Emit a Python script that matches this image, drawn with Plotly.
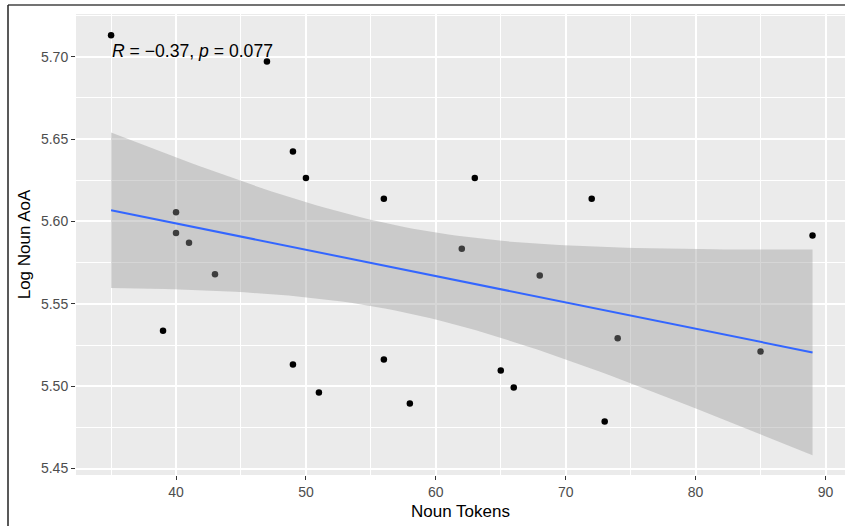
import numpy as np
import plotly.graph_objects as go

# data
noun_tokens = [35, 47, 49, 50, 56, 63, 72, 89, 40, 40, 41, 62,
               43, 68, 39, 74, 85, 56, 49, 65, 66, 51, 58, 73]
log_noun_aoa = [5.713, 5.697, 5.6425, 5.6263, 5.6137, 5.6263, 5.6137, 5.5915,
                5.6055, 5.593, 5.587, 5.5834, 5.568, 5.5672, 5.5336, 5.5291,
                5.521, 5.5162, 5.5132, 5.5095, 5.4992, 5.4962, 5.4895, 5.4786]
x_ticks = [40, 50, 60, 70, 80, 90]
y_ticks = [5.45, 5.50, 5.55, 5.60, 5.65, 5.70]
cor_label = "<i>R</i> = \u22120.37, <i>p</i> = 0.077"

x = np.array(noun_tokens, dtype=float)
y = np.array(log_noun_aoa, dtype=float)
n = len(x)
b1, b0 = np.polyfit(x, y, 1)
xs = np.linspace(x.min(), x.max(), 80)
fit = b0 + b1 * xs
resid = y - (b0 + b1 * x)
s = np.sqrt(np.sum(resid ** 2) / (n - 2))
sxx = np.sum((x - x.mean()) ** 2)
se = s * np.sqrt(1.0 / n + (xs - x.mean()) ** 2 / sxx)
tq = 2.073873  # t(0.975, df=22)
lo = fit - tq * se
hi = fit + tq * se

FONT = "Liberation Sans, Arial, sans-serif"

fig = go.Figure()
fig.add_trace(go.Scatter(x=x, y=y, mode="markers",
                         marker=dict(color="black", size=6.5, line=dict(width=0)),
                         hoverinfo="skip", showlegend=False))
fig.add_trace(go.Scatter(x=np.concatenate([xs, xs[::-1]]),
                         y=np.concatenate([hi, lo[::-1]]),
                         fill="toself", fillcolor="rgba(153,153,153,0.4)",
                         line=dict(width=0), mode="lines",
                         hoverinfo="skip", showlegend=False))
fig.add_trace(go.Scatter(x=xs, y=fit, mode="lines",
                         line=dict(color="#3366FF", width=2),
                         hoverinfo="skip", showlegend=False))

fig.add_annotation(x=35, y=5.7032, text=cor_label, showarrow=False,
                   xanchor="left", yanchor="middle", xshift=-1,
                   font=dict(family=FONT, size=17.6, color="black"))

PW = 845 - 76
PH = 526 - 14 - 51
# outer border lines (left and top)
fig.add_shape(type="line", xref="paper", yref="paper",
              x0=(8 - 76) / PW, x1=1.0, y0=1 + (14 - 5) / PH, y1=1 + (14 - 5) / PH,
              line=dict(color="#444444", width=1.5))
fig.add_shape(type="line", xref="paper", yref="paper",
              x0=(8 - 76) / PW, x1=(8 - 76) / PW, y0=-51 / PH, y1=1 + (14 - 5) / PH,
              line=dict(color="#222222", width=1.5))

fig.update_layout(
    width=845, height=526,
    margin=dict(l=76, r=0, t=14, b=51, autoexpand=False),
    paper_bgcolor="white", plot_bgcolor="#EBEBEB",
    font=dict(family=FONT),
    showlegend=False,
)
fig.update_xaxes(range=[32.3, 91.5], tickvals=x_ticks, ticktext=[str(v) for v in x_ticks],
                 showgrid=True, gridcolor="white", gridwidth=1.6,
                 minor=dict(dtick=5, tick0=0, showgrid=True, gridcolor="white", gridwidth=0.8),
                 zeroline=False, ticks="outside", ticklen=4, tickcolor="#333333", tickwidth=1,
                 tickfont=dict(family=FONT, size=14, color="#4D4D4D"),
                 title=dict(text="Noun Tokens", standoff=6,
                            font=dict(family=FONT, size=17, color="black")),
                 automargin=False, showline=False)
fig.update_yaxes(range=[5.4461, 5.7259], tickvals=y_ticks,
                 ticktext=["%.2f" % v for v in y_ticks],
                 showgrid=True, gridcolor="white", gridwidth=1.6,
                 minor=dict(dtick=0.025, tick0=5.45, showgrid=True, gridcolor="white", gridwidth=0.8),
                 zeroline=False, ticks="outside", ticklen=4, tickcolor="#333333", tickwidth=1,
                 tickfont=dict(family=FONT, size=14, color="#4D4D4D"),
                 title=dict(text="Log Noun AoA", standoff=6,
                            font=dict(family=FONT, size=17, color="black")),
                 automargin=False, showline=False)

fig.write_html("out.html", config={"displayModeBar": False},
               post_script="document.body.style.margin='0';document.body.style.overflow='hidden';")
